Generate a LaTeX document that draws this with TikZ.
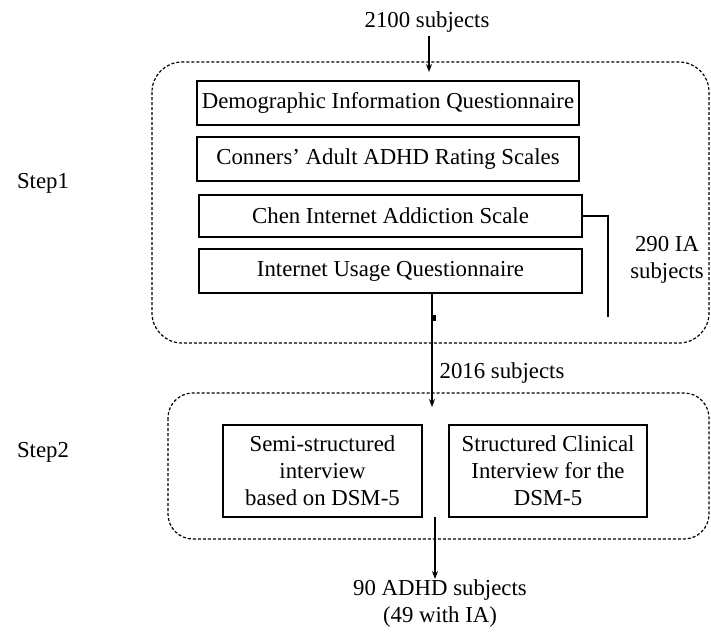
\documentclass[tikz,border=0pt]{standalone}
\usepackage{fontspec}
\setmainfont{Liberation Serif}
\usetikzlibrary{arrows.meta}
\usetikzlibrary{calc}

\tikzset{
  qbox/.style={draw,line width=1.2pt,minimum height=44pt,inner sep=0pt,align=center},
  stepframe/.style={dash pattern=on 3pt off 2pt,line width=1.2pt,rounded corners=30pt},
  arr/.style={-{Stealth[length=8pt,width=6pt]},line width=1.1pt}
}

\begin{document}
\begin{tikzpicture}[x=1pt,y=-1pt,font=\fontsize{22.8}{27}\selectfont]
    \useasboundingbox (0,0) rectangle (711,635);

    % dashed frames of the two steps
    \draw[stepframe] (152,62) rectangle (709,343);
    \draw[stepframe,rounded corners=25pt] (168,393) rectangle (709,539);

    \node (step1) at (43,183) {Step1};
    \node (step2) at (43,452) {Step2};

    % step 1
    \node (n2100) at (427,22) {2100 subjects};
    \coordinate (in1) at (429,72);
    \node[qbox,minimum width=382pt] (demo) at (388,103) {Demographic Information Questionnaire};
    \node[qbox,minimum width=382pt] (caars) at (388,159) {Conners' Adult ADHD Rating Scales};
    \node[qbox,minimum width=383pt,minimum height=42pt] (cias) at (390.5,216) {Chen Internet Addiction Scale};
    \node[qbox,minimum width=383pt] (iuq) at (390.5,271) {Internet Usage Questionnaire};
    \draw[arr] (n2100.south -| in1) -- (in1);

    \coordinate (iaend) at (608,317);
    \draw[line width=1.2pt] (cias.east) -| (iaend);
    \node[align=center] (ia) at (667,260) {290 IA\\subjects};

    % step 2
    \coordinate (in2) at (432,407);
    \draw[arr] (iuq.south -| in2) -- (in2);
    \fill (432.5,315) rectangle (436,321);
    \node (n2016) at (502,373) {2016 subjects};

    \node[qbox,minimum width=199pt,minimum height=92pt] (semi) at (322.5,471) {Semi-structured\\interview\\based on DSM-5};
    \node[qbox,minimum width=198pt,minimum height=92pt] (scid) at (548,471) {Structured Clinical\\Interview for the\\DSM-5};

    \coordinate (out2) at (435,517);
    \node[align=center,inner sep=1pt] (adhd) at (440,604) {90 ADHD subjects\\(49 with IA)};
    \draw[arr] (out2) -- (out2 |- adhd.north);
\end{tikzpicture}
\end{document}
